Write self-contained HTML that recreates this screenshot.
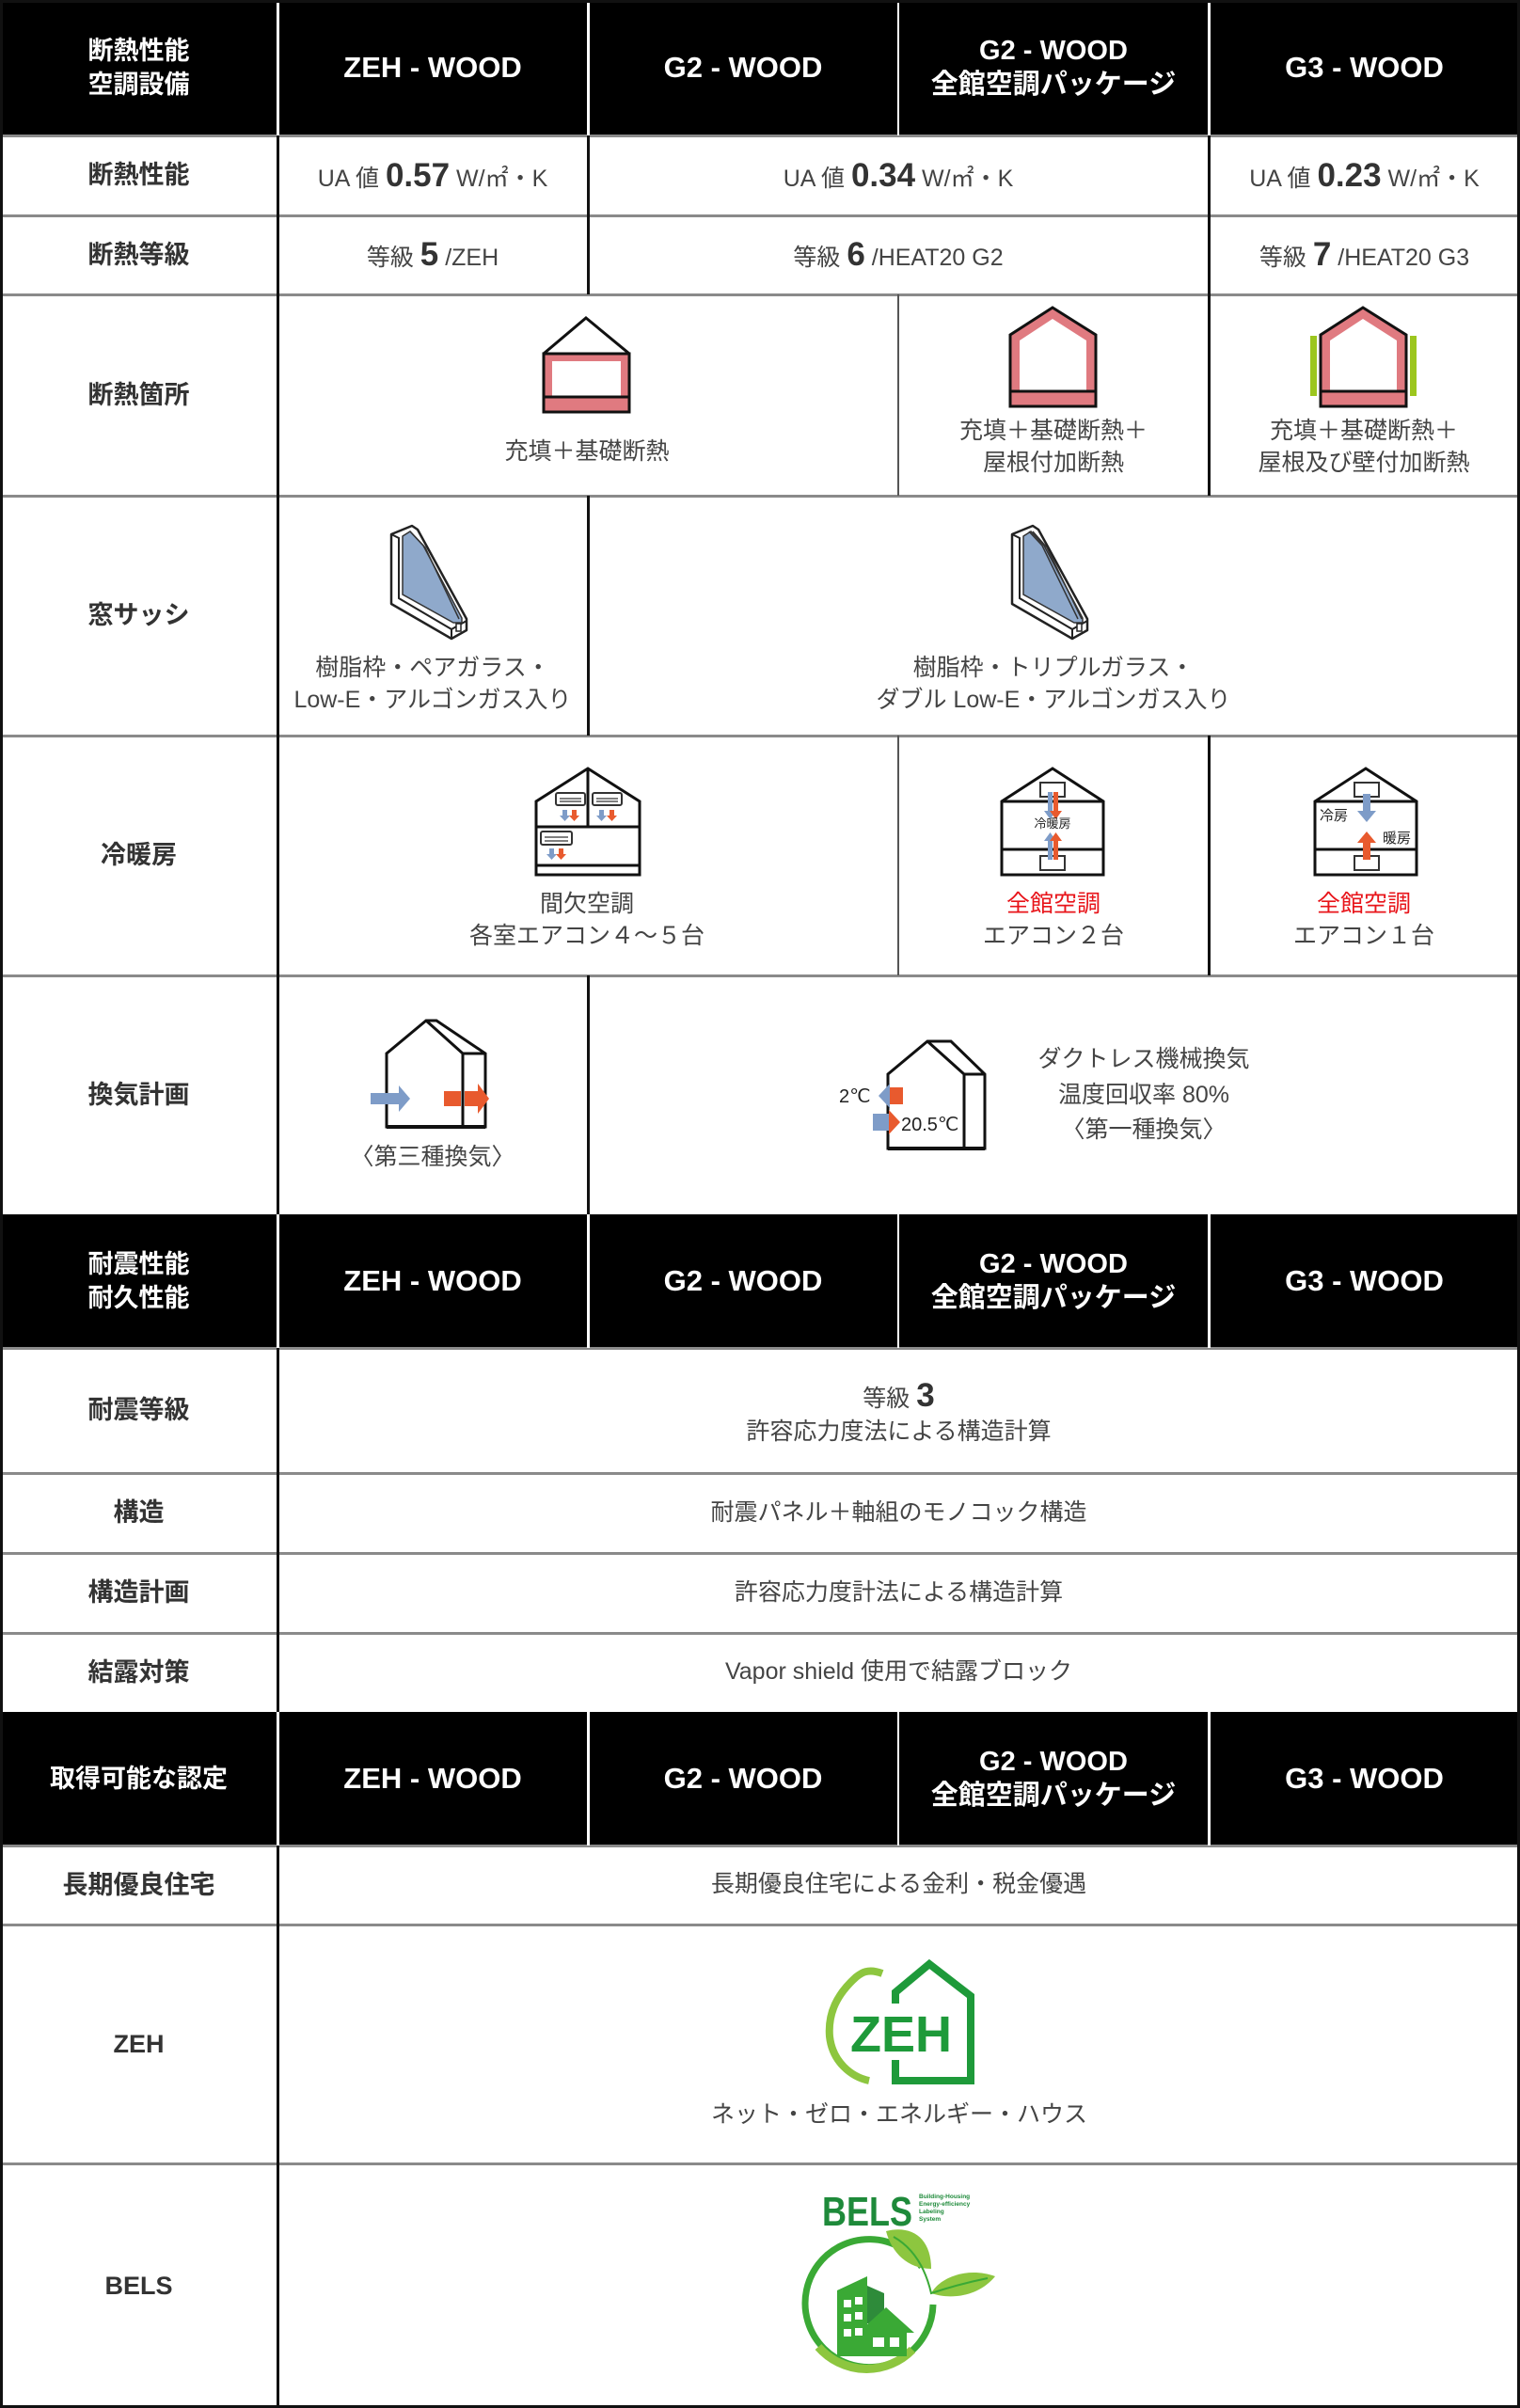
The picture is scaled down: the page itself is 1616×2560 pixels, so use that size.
<!DOCTYPE html>
<html><head><meta charset="utf-8"><style>
*{margin:0;padding:0;box-sizing:border-box}
body{width:1616px;height:2560px;position:relative;background:#fff;font-family:"Liberation Sans","Noto Sans CJK JP",sans-serif;overflow:hidden}
.c{position:absolute;display:flex;align-items:center;justify-content:center;text-align:center;color:#444;font-size:25px;line-height:1.35}
.hl{color:#fff;font-size:27px;font-weight:bold}
.lab{font-weight:bold;color:#333;font-size:27px}
.hl2{position:absolute;height:3px;background:#8a8a8a;left:0;width:1616px}
.vl{position:absolute;width:3px;background:#111}
.t{position:absolute;text-align:center;color:#444;font-size:25px;line-height:1.35;transform:translateX(-50%);white-space:nowrap}
b.n{font-size:35px;color:#333}
.ico{position:absolute}
</style></head><body>

<div class="c" style="left:0;top:0;width:1616px;height:144px;background:#000"></div>
<div class="c" style="left:0;top:1291px;width:1616px;height:142px;background:#000"></div>
<div class="c" style="left:0;top:1820px;width:1616px;height:142px;background:#000"></div>

<div class="c hl" style="left:0;top:0;width:295px;height:144px"><div>断熱性能<br>空調設備</div></div>
<div class="c hl" style="left:295px;top:0;width:330px;height:144px;font-size:31px">ZEH - WOOD</div>
<div class="c hl" style="left:625px;top:0;width:330px;height:144px;font-size:31px">G2 - WOOD</div>
<div class="c hl" style="left:955px;top:0;width:330px;height:144px;font-size:29px;line-height:1.25"><div>G2 - WOOD<br>全館空調パッケージ</div></div>
<div class="c hl" style="left:1285px;top:0;width:331px;height:144px;font-size:31px">G3 - WOOD</div>

<div class="c hl" style="left:0;top:1291px;width:295px;height:142px"><div>耐震性能<br>耐久性能</div></div>
<div class="c hl" style="left:295px;top:1291px;width:330px;height:142px;font-size:31px">ZEH - WOOD</div>
<div class="c hl" style="left:625px;top:1291px;width:330px;height:142px;font-size:31px">G2 - WOOD</div>
<div class="c hl" style="left:955px;top:1291px;width:330px;height:142px;font-size:29px;line-height:1.25"><div>G2 - WOOD<br>全館空調パッケージ</div></div>
<div class="c hl" style="left:1285px;top:1291px;width:331px;height:142px;font-size:31px">G3 - WOOD</div>

<div class="c hl" style="left:0;top:1820px;width:295px;height:142px">取得可能な認定</div>
<div class="c hl" style="left:295px;top:1820px;width:330px;height:142px;font-size:31px">ZEH - WOOD</div>
<div class="c hl" style="left:625px;top:1820px;width:330px;height:142px;font-size:31px">G2 - WOOD</div>
<div class="c hl" style="left:955px;top:1820px;width:330px;height:142px;font-size:29px;line-height:1.25"><div>G2 - WOOD<br>全館空調パッケージ</div></div>
<div class="c hl" style="left:1285px;top:1820px;width:331px;height:142px;font-size:31px">G3 - WOOD</div>

<div class="hl2" style="top:143px"></div>
<div class="hl2" style="top:228px"></div>
<div class="hl2" style="top:312px"></div>
<div class="hl2" style="top:526px"></div>
<div class="hl2" style="top:781px"></div>
<div class="hl2" style="top:1036px"></div>
<div class="hl2" style="top:1432px"></div>
<div class="hl2" style="top:1565px"></div>
<div class="hl2" style="top:1650px"></div>
<div class="hl2" style="top:1735px"></div>
<div class="hl2" style="top:1961px"></div>
<div class="hl2" style="top:2045px"></div>
<div class="hl2" style="top:2299px"></div>

<div class="vl" style="left:294px;top:0;height:2560px"></div>
<div class="vl" style="left:294px;top:0;height:144px;background:#fff"></div>
<div class="vl" style="left:294px;top:1291px;height:142px;background:#fff"></div>
<div class="vl" style="left:294px;top:1820px;height:142px;background:#fff"></div>
<div class="vl" style="left:624px;top:0;height:144px;background:#fff"></div>
<div class="vl" style="left:954px;top:0;height:144px;background:#fff;width:2px"></div>
<div class="vl" style="left:1284px;top:0;height:144px;background:#fff"></div>
<div class="vl" style="left:624px;top:1291px;height:142px;background:#fff"></div>
<div class="vl" style="left:954px;top:1291px;height:142px;background:#fff;width:2px"></div>
<div class="vl" style="left:1284px;top:1291px;height:142px;background:#fff"></div>
<div class="vl" style="left:624px;top:1820px;height:142px;background:#fff"></div>
<div class="vl" style="left:954px;top:1820px;height:142px;background:#fff;width:2px"></div>
<div class="vl" style="left:1284px;top:1820px;height:142px;background:#fff"></div>
<div class="vl" style="left:624px;top:144px;height:169px"></div>
<div class="vl" style="left:1284px;top:144px;height:169px"></div>
<div class="vl" style="left:954px;top:313px;height:214px;width:2px;background:#555"></div>
<div class="vl" style="left:1284px;top:313px;height:214px"></div>
<div class="vl" style="left:624px;top:527px;height:255px"></div>
<div class="vl" style="left:954px;top:782px;height:255px;width:2px;background:#555"></div>
<div class="vl" style="left:1284px;top:782px;height:255px"></div>
<div class="vl" style="left:624px;top:1037px;height:254px"></div>
<div style="position:absolute;left:0;top:0;width:1616px;height:2560px;border:3px solid #111"></div>

<div class="c lab" style="left:0;top:144px;width:295px;height:85px">断熱性能</div>
<div class="c lab" style="left:0;top:229px;width:295px;height:84px">断熱等級</div>
<div class="c lab" style="left:0;top:313px;width:295px;height:214px">断熱箇所</div>
<div class="c lab" style="left:0;top:527px;width:295px;height:255px">窓サッシ</div>
<div class="c lab" style="left:0;top:782px;width:295px;height:255px">冷暖房</div>
<div class="c lab" style="left:0;top:1037px;width:295px;height:254px">換気計画</div>
<div class="c lab" style="left:0;top:1433px;width:295px;height:133px">耐震等級</div>
<div class="c lab" style="left:0;top:1566px;width:295px;height:85px">構造</div>
<div class="c lab" style="left:0;top:1651px;width:295px;height:85px">構造計画</div>
<div class="c lab" style="left:0;top:1736px;width:295px;height:84px">結露対策</div>
<div class="c lab" style="left:0;top:1962px;width:295px;height:84px">長期優良住宅</div>
<div class="c lab" style="left:0;top:2046px;width:295px;height:254px">ZEH</div>
<div class="c lab" style="left:0;top:2300px;width:295px;height:260px">BELS</div>

<div class="c" style="left:295px;top:144px;width:330px;height:85px"><div>UA 値 <b class="n">0.57</b> W/㎡・K</div></div>
<div class="c" style="left:625px;top:144px;width:660px;height:85px"><div>UA 値 <b class="n">0.34</b> W/㎡・K</div></div>
<div class="c" style="left:1285px;top:144px;width:331px;height:85px"><div>UA 値 <b class="n">0.23</b> W/㎡・K</div></div>
<div class="c" style="left:295px;top:229px;width:330px;height:84px"><div>等級 <b class="n">5</b> /ZEH</div></div>
<div class="c" style="left:625px;top:229px;width:660px;height:84px"><div>等級 <b class="n">6</b> /HEAT20 G2</div></div>
<div class="c" style="left:1285px;top:229px;width:331px;height:84px"><div>等級 <b class="n">7</b> /HEAT20 G3</div></div>

<!-- row 3 icons -->
<svg class="ico" style="left:575px;top:336px" width="97" height="106" viewBox="0 0 97 106">
<polygon points="48,2 94,40 94,102 3,102 3,40" fill="#fff" stroke="#111" stroke-width="3"/>
<rect x="3" y="40" width="91" height="62" fill="#e07a80" stroke="#111" stroke-width="3"/>
<rect x="12" y="48" width="73" height="38" fill="#fff"/>
<line x1="3" y1="86" x2="94" y2="86" stroke="#111" stroke-width="3"/>
</svg>
<div class="t" style="left:624px;top:464px">充填＋基礎断熱</div>

<svg class="ico" style="left:1071px;top:324px" width="97" height="112" viewBox="0 0 97 112">
<polygon points="48,3 94,32 94,108 3,108 3,32" fill="#e07a80" stroke="#111" stroke-width="3"/>
<polygon points="48,15 84,38 84,92 13,92 13,38" fill="#fff"/>
<line x1="3" y1="92" x2="94" y2="92" stroke="#111" stroke-width="3"/>
</svg>
<div class="t" style="left:1120px;top:442px">充填＋基礎断熱＋<br>屋根付加断熱</div>

<svg class="ico" style="left:1391px;top:324px" width="117" height="112" viewBox="0 0 117 112">
<rect x="2" y="33" width="7" height="64" fill="#9cc61e"/>
<rect x="108" y="33" width="7" height="64" fill="#9cc61e"/>
<polygon points="58,3 104,32 104,108 13,108 13,32" fill="#e07a80" stroke="#111" stroke-width="3"/>
<polygon points="58,15 94,38 94,92 23,92 23,38" fill="#fff"/>
<line x1="13" y1="92" x2="104" y2="92" stroke="#111" stroke-width="3"/>
</svg>
<div class="t" style="left:1450px;top:442px">充填＋基礎断熱＋<br>屋根及び壁付加断熱</div>

<!-- row 4 windows -->
<svg class="ico" style="left:400px;top:550px" width="120" height="135" viewBox="0 0 120 135">
<polygon points="16,18 38,9 44,13 96,108 96,120 80,129 16,92" fill="#fff" stroke="#222" stroke-width="2.5" stroke-linejoin="round"/>
<polyline points="16,18 24,22 24,86 80,119 80,129" fill="none" stroke="#222" stroke-width="2"/>
<line x1="80" y1="119" x2="96" y2="110" stroke="#222" stroke-width="2"/>
<polygon points="28,20 36,15 50,30 91,107 91,112 82,112 28,82" fill="#8fa9cb" stroke="#333" stroke-width="1.5"/>
<polyline points="36,15 52,32 88,108" fill="none" stroke="#333" stroke-width="1.5"/>
<rect x="85" y="113" width="5" height="8" fill="#fff" stroke="#222" stroke-width="1.5"/>
</svg>
<div class="t" style="left:460px;top:694px">樹脂枠・ペアガラス・<br>Low-E・アルゴンガス入り</div>
<svg class="ico" style="left:1060px;top:550px" width="120" height="135" viewBox="0 0 120 135">
<polygon points="16,18 38,9 44,13 96,108 96,120 80,129 16,92" fill="#fff" stroke="#222" stroke-width="2.5" stroke-linejoin="round"/>
<polyline points="16,18 24,22 24,86 80,119 80,129" fill="none" stroke="#222" stroke-width="2"/>
<line x1="80" y1="119" x2="96" y2="110" stroke="#222" stroke-width="2"/>
<polygon points="28,20 36,15 50,30 91,107 91,112 82,112 28,82" fill="#8fa9cb" stroke="#333" stroke-width="1.5"/>
<polyline points="34,15 48,30 86,108" fill="none" stroke="#333" stroke-width="1.5"/>
<polyline points="38,15 53,32 90,108" fill="none" stroke="#333" stroke-width="1.5"/>
<rect x="85" y="113" width="5" height="8" fill="#fff" stroke="#222" stroke-width="1.5"/>
</svg>
<div class="t" style="left:1120px;top:694px">樹脂枠・トリプルガラス・<br>ダブル Low-E・アルゴンガス入り</div>

<!-- row 5 AC -->
<svg class="ico" style="left:560px;top:810px" width="130" height="130" viewBox="0 0 130 130">
<polygon points="65,7 120,42 120,120 10,120 10,42" fill="#fff" stroke="#111" stroke-width="3"/>
<line x1="65" y1="7" x2="65" y2="69" stroke="#111" stroke-width="3"/>
<line x1="10" y1="69" x2="120" y2="69" stroke="#111" stroke-width="3"/>
<line x1="10" y1="110" x2="120" y2="110" stroke="#111" stroke-width="3"/>
<g fill="#fff" stroke="#333" stroke-width="2"><rect x="31" y="33" width="31" height="13" rx="2"/><rect x="70" y="33" width="31" height="13" rx="2"/><rect x="15" y="74" width="33" height="14" rx="2"/></g>
<g stroke="#555" stroke-width="1.5"><line x1="35" y1="39" x2="58" y2="39"/><line x1="35" y1="42" x2="58" y2="42"/><line x1="74" y1="39" x2="97" y2="39"/><line x1="74" y1="42" x2="97" y2="42"/><line x1="19" y1="80" x2="44" y2="80"/><line x1="19" y1="84" x2="44" y2="84"/></g>
<g fill="#7e9cc8"><path d="M38,51h5v6h3l-5.5,6 -5.5,-6h3z"/><path d="M77,51h5v6h3l-5.5,6 -5.5,-6h3z"/><path d="M24,92h5v6h3l-5.5,6 -5.5,-6h3z"/></g>
<g fill="#e85a2e"><path d="M48,51h5v6h3l-5.5,6 -5.5,-6h3z"/><path d="M88,51h5v6h3l-5.5,6 -5.5,-6h3z"/><path d="M34,92h5v6h3l-5.5,6 -5.5,-6h3z"/></g>
</svg>
<div class="t" style="left:624px;top:945px">間欠空調<br>各室エアコン４～５台</div>

<svg class="ico" style="left:1061px;top:814px" width="116" height="120" viewBox="0 0 116 120">
<polygon points="58,3 112,38 112,116 4,116 4,38" fill="#fff" stroke="#111" stroke-width="3"/>
<line x1="4" y1="38" x2="112" y2="38" stroke="#111" stroke-width="3"/>
<line x1="4" y1="89" x2="112" y2="89" stroke="#111" stroke-width="3"/>
<rect x="45" y="18" width="26" height="15" fill="#fff" stroke="#333" stroke-width="2"/>
<rect x="45" y="96" width="26" height="15" fill="#fff" stroke="#333" stroke-width="2"/>
<path d="M53,28h5v20h4l-6.5,9 -6.5,-9h4z" fill="#7e9cc8"/>
<path d="M59,28h5v20h4l-6.5,9 -6.5,-9h4z" fill="#e85a2e"/>
<path d="M53,100h5v-20h4l-6.5,-9 -6.5,9h4z" fill="#7e9cc8"/>
<path d="M59,100h5v-20h4l-6.5,-9 -6.5,9h4z" fill="#e85a2e"/>
<text x="58" y="66" font-size="13" text-anchor="middle" fill="#222" font-family="Liberation Sans,Noto Sans CJK JP,sans-serif">冷暖房</text>
</svg>
<div class="t" style="left:1120px;top:945px"><span style="color:#e8141a">全館空調</span><br>エアコン２台</div>

<svg class="ico" style="left:1394px;top:814px" width="116" height="120" viewBox="0 0 116 120">
<polygon points="58,3 112,38 112,116 4,116 4,38" fill="#fff" stroke="#111" stroke-width="3"/>
<line x1="4" y1="38" x2="112" y2="38" stroke="#111" stroke-width="3"/>
<line x1="4" y1="89" x2="112" y2="89" stroke="#111" stroke-width="3"/>
<rect x="46" y="18" width="26" height="15" fill="#fff" stroke="#333" stroke-width="2"/>
<rect x="46" y="96" width="26" height="15" fill="#fff" stroke="#333" stroke-width="2"/>
<path d="M55,30h8v18h6l-10,12 -10,-12h6z" fill="#7e9cc8"/>
<path d="M55,100h8v-18h6l-10,-12 -10,12h6z" fill="#e85a2e"/>
<text x="9" y="58" font-size="15" fill="#222" font-family="Liberation Sans,Noto Sans CJK JP,sans-serif">冷房</text>
<text x="76" y="82" font-size="15" fill="#222" font-family="Liberation Sans,Noto Sans CJK JP,sans-serif">暖房</text>
</svg>
<div class="t" style="left:1450px;top:945px"><span style="color:#e8141a">全館空調</span><br>エアコン１台</div>

<!-- row 6 ventilation -->
<svg class="ico" style="left:390px;top:1080px" width="145" height="125" viewBox="0 0 145 125">
<polygon points="63,5 74,5 126,40 126,118 21,118 21,40" fill="#fff" stroke="#111" stroke-width="3" stroke-linejoin="miter"/>
<polyline points="63,5 102,40 126,40" fill="none" stroke="#111" stroke-width="3"/>
<line x1="102" y1="40" x2="102" y2="118" stroke="#111" stroke-width="3"/>
<line x1="21" y1="118" x2="126" y2="118" stroke="#111" stroke-width="4"/>
<path d="M4,82h30v-8l12,14 -12,14v-8h-30z" fill="#7e9cc8"/>
<rect x="82" y="80" width="18" height="16" fill="#e85a2e"/>
<path d="M104,80h14v-8l12,16 -12,16v-8h-14z" fill="#e85a2e"/>
</svg>
<div class="t" style="left:460px;top:1214px">〈第三種換気〉</div>

<svg class="ico" style="left:888px;top:1100px" width="170" height="125" viewBox="0 0 170 125">
<polygon points="98,7 123,7 159,42 159,121 56,121 56,42" fill="#fff" stroke="#111" stroke-width="3"/>
<polyline points="98,7 137,42 159,42" fill="none" stroke="#111" stroke-width="3"/>
<line x1="137" y1="42" x2="137" y2="121" stroke="#111" stroke-width="3"/>
<line x1="56" y1="121" x2="159" y2="121" stroke="#111" stroke-width="4"/>
<rect x="58" y="56" width="14" height="18" fill="#e85a2e"/>
<path d="M58,52v26l-12,-13z" fill="#7e9cc8"/>
<rect x="40" y="84" width="17" height="18" fill="#7e9cc8"/>
<path d="M57,80l12,13 -12,13z" fill="#e85a2e"/>
<text x="4" y="72" font-size="20" fill="#222" font-family="Liberation Sans,sans-serif">2℃</text>
<text x="70" y="102" font-size="20" fill="#222" font-family="Liberation Sans,sans-serif">20.5℃</text>
</svg>
<div class="t" style="left:1216px;top:1108px;line-height:1.5">ダクトレス機械換気<br>温度回収率 80%<br>〈第一種換気〉</div>

<div class="c" style="left:295px;top:1433px;width:1321px;height:133px;line-height:1.3"><div>等級 <b class="n">3</b><br>許容応力度法による構造計算</div></div>
<div class="c" style="left:295px;top:1566px;width:1321px;height:85px">耐震パネル＋軸組のモノコック構造</div>
<div class="c" style="left:295px;top:1651px;width:1321px;height:85px">許容応力度計法による構造計算</div>
<div class="c" style="left:295px;top:1736px;width:1321px;height:84px">Vapor shield 使用で結露ブロック</div>
<div class="c" style="left:295px;top:1962px;width:1321px;height:84px">長期優良住宅による金利・税金優遇</div>

<!-- ZEH logo -->
<svg class="ico" style="left:860px;top:2080px" width="190" height="145" viewBox="0 0 190 145">
<path d="M78,18 C62,12 55,18 50,22 C30,40 20,60 22,85 C25,112 45,128 64,132" fill="none" stroke="#8dc63f" stroke-width="8"/>
<polyline points="92,50 92,38 128,8 172,42 172,132 92,132 92,110" fill="none" stroke="#1e9a3a" stroke-width="8"/>
<text x="44" y="101" font-size="54" font-weight="bold" fill="#1e9a3a" font-family="Liberation Sans,sans-serif">ZEH</text>
</svg>
<div class="t" style="left:956px;top:2232px">ネット・ゼロ・エネルギー・ハウス</div>

<!-- BELS logo -->
<svg class="ico" style="left:840px;top:2320px" width="240" height="210" viewBox="0 0 240 210">
<text x="34" y="46" font-size="44" font-weight="bold" fill="#1e8a3a" font-family="Liberation Sans,sans-serif" textLength="96" lengthAdjust="spacingAndGlyphs">BELS</text>
<text x="137" y="17" font-size="6.5" font-weight="bold" fill="#1e8a3a" font-family="Liberation Sans,sans-serif">Building-Housing</text>
<text x="137" y="25" font-size="6.5" font-weight="bold" fill="#1e8a3a" font-family="Liberation Sans,sans-serif">Energy-efficiency</text>
<text x="137" y="33" font-size="6.5" font-weight="bold" fill="#1e8a3a" font-family="Liberation Sans,sans-serif">Labeling</text>
<text x="137" y="41" font-size="6.5" font-weight="bold" fill="#1e8a3a" font-family="Liberation Sans,sans-serif">System</text>
<path d="M140,90 A68,68 0 1 0 152,130" fill="none" stroke="#3aa935" stroke-width="7"/>
<path d="M30,175 A68,68 0 0 0 130,178" fill="none" stroke="#8dc63f" stroke-width="9"/>
<polygon points="50,115 82,100 82,185 50,185" fill="#3aa935"/>
<polygon points="82,110 100,118 100,150 82,150" fill="#2e8b3a"/>
<polygon points="72,160 102,133 132,160 124,160 124,185 78,185 78,160" fill="#3aa935"/>
<g fill="#fff"><rect x="57" y="125" width="8" height="8"/><rect x="69" y="122" width="8" height="8"/><rect x="57" y="140" width="8" height="8"/><rect x="69" y="138" width="8" height="8"/><rect x="57" y="156" width="8" height="8"/><rect x="69" y="155" width="8" height="8"/><rect x="88" y="165" width="12" height="10"/><rect x="106" y="165" width="10" height="10"/></g>
<path d="M102,52 C130,45 150,60 150,92 C125,92 108,75 102,52z" fill="#8dc63f"/>
<path d="M150,118 C160,100 190,90 218,100 C200,122 170,125 150,118z" fill="#8dc63f"/>
<path d="M110,58 Q140,75 150,118 Q180,108 210,102" fill="none" stroke="#3aa935" stroke-width="2"/>
</svg>

</body></html>
